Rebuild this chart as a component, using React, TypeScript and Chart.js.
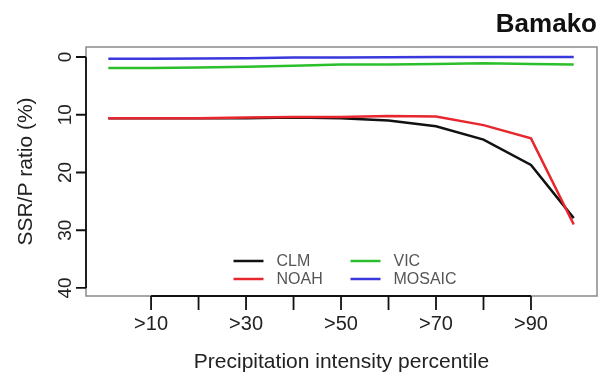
import React, { useEffect, useRef } from "react";
import { Chart, registerables } from "chart.js";

Chart.register(...registerables);

const percentiles = [1, 10, 20, 30, 40, 50, 60, 70, 80, 90, 99];
const clm = [10.6, 10.6, 10.6, 10.6, 10.5, 10.6, 11.0, 12.0, 14.3, 18.7, 27.9];
const noah = [10.6, 10.6, 10.6, 10.5, 10.4, 10.4, 10.2, 10.3, 11.8, 14.1, 29.0];
const vic = [1.9, 1.9, 1.8, 1.7, 1.5, 1.3, 1.3, 1.2, 1.1, 1.2, 1.3];
const mosaic = [0.3, 0.3, 0.25, 0.2, 0.1, 0.1, 0.05, 0.0, 0.0, 0.0, 0.0];

const seriesNames = ["CLM", "NOAH", "VIC", "MOSAIC"];
const seriesColors = ["#111111", "#e8262e", "#2cbf2c", "#3838dc"];
const seriesOrder = [1, 0, 2, 3];

const xTickValues = [10, 20, 30, 40, 50, 60, 70, 80, 90];
const xTickLabels = [">10", "", ">30", "", ">50", "", ">70", "", ">90"];
const yTickValues = [0, 10, 20, 30, 40];

const titleText = "Bamako";
const xTitle = "Precipitation intensity percentile";
const yTitle = "SSR/P ratio (%)";

const FONT = "'Liberation Sans', Arial, sans-serif";

const overlayPlugin = {
  id: "rStyle",
  afterDraw(chart: any) {
    const ctx = chart.ctx as CanvasRenderingContext2D;
    const area = chart.chartArea;
    const xs = chart.scales.x;
    const ys = chart.scales.y;
    ctx.save();

    // box
    ctx.strokeStyle = "#8a8a8a";
    ctx.lineWidth = 1.5;
    ctx.strokeRect(area.left, area.top, area.right - area.left, area.bottom - area.top);

    // axes
    ctx.strokeStyle = "#111";
    ctx.lineWidth = 1.8;
    ctx.beginPath();
    const x0 = xs.getPixelForValue(xTickValues[0]);
    const x1 = xs.getPixelForValue(xTickValues[xTickValues.length - 1]);
    ctx.moveTo(x0, area.bottom);
    ctx.lineTo(x1, area.bottom);
    xTickValues.forEach((v) => {
      const px = xs.getPixelForValue(v);
      ctx.moveTo(px, area.bottom);
      ctx.lineTo(px, area.bottom + 14);
    });
    const y0 = ys.getPixelForValue(yTickValues[0]);
    const y1 = ys.getPixelForValue(yTickValues[yTickValues.length - 1]);
    ctx.moveTo(area.left, y0);
    ctx.lineTo(area.left, y1);
    yTickValues.forEach((v) => {
      const py = ys.getPixelForValue(v);
      ctx.moveTo(area.left, py);
      ctx.lineTo(area.left - 10, py);
    });
    ctx.stroke();

    // x tick labels
    ctx.fillStyle = "#222";
    ctx.font = `20px ${FONT}`;
    ctx.textAlign = "center";
    ctx.textBaseline = "alphabetic";
    xTickValues.forEach((v, i) => {
      if (!xTickLabels[i]) return;
      ctx.fillText(xTickLabels[i], xs.getPixelForValue(v), area.bottom + 34);
    });

    // y tick labels (rotated)
    ctx.font = `19px ${FONT}`;
    yTickValues.forEach((v) => {
      const py = ys.getPixelForValue(v);
      ctx.save();
      ctx.translate(area.left - 15, py);
      ctx.rotate(-Math.PI / 2);
      ctx.textAlign = "center";
      ctx.fillText(String(v), 0, 0);
      ctx.restore();
    });

    // axis titles
    ctx.font = `21px ${FONT}`;
    ctx.fillStyle = "#222";
    ctx.textAlign = "center";
    ctx.fillText(xTitle, (area.left + area.right) / 2, 368);
    ctx.save();
    ctx.translate(32, (area.top + area.bottom) / 2);
    ctx.rotate(-Math.PI / 2);
    ctx.fillText(yTitle, 0, 0);
    ctx.restore();

    // title
    ctx.font = `bold 26px ${FONT}`;
    ctx.fillStyle = "#111";
    ctx.textAlign = "right";
    ctx.fillText(titleText, area.right, 32);

    // legend
    const cx = (area.left + area.right) / 2;
    const colStarts = [cx - 108, cx + 9];
    const rowYs = [area.bottom - 35, area.bottom - 17];
    ctx.font = `16px ${FONT}`;
    ctx.textAlign = "left";
    ctx.textBaseline = "middle";
    chart.data.datasets.forEach((ds: any, i: number) => {
      const col = Math.floor(i / 2);
      const row = i % 2;
      const lx = colStarts[col];
      const ly = rowYs[row];
      ctx.strokeStyle = ds.borderColor;
      ctx.lineWidth = 2.5;
      ctx.beginPath();
      ctx.moveTo(lx, ly);
      ctx.lineTo(lx + 30, ly);
      ctx.stroke();
      ctx.fillStyle = "#555";
      ctx.fillText(ds.label, lx + 43, ly + 1);
    });

    ctx.restore();
  },
};

export default function App() {
  const canvasRef = useRef<HTMLCanvasElement | null>(null);

  useEffect(() => {
    document.body.style.margin = "0";
    const canvas = canvasRef.current;
    if (!canvas) return;
    const seriesValues = [clm, noah, vic, mosaic];
    const chart = new Chart(canvas, {
      type: "line",
      data: {
        datasets: seriesValues.map((vals, i) => ({
          label: seriesNames[i],
          data: percentiles.map((p, j) => ({ x: p, y: vals[j] })),
          borderColor: seriesColors[i],
          backgroundColor: seriesColors[i],
          borderWidth: 2.5,
          pointRadius: 0,
          tension: 0,
          fill: false,
          order: seriesOrder[i],
        })),
      },
      options: {
        responsive: false,
        animation: false,
        devicePixelRatio: 1,
        layout: { padding: { left: 86, top: 47, right: 2, bottom: 76 } },
        plugins: { legend: { display: false }, tooltip: { enabled: false }, title: { display: false } },
        scales: {
          x: { type: "linear", min: -3.7, max: 103.9, display: false },
          y: { type: "linear", min: -1.73, max: 41.39, reverse: true, display: false },
        },
      },
      plugins: [overlayPlugin],
    });
    return () => chart.destroy();
  }, []);

  return (
    <div style={{ width: 599, height: 372, background: "#fff" }}>
      <canvas ref={canvasRef} width={599} height={372} />
    </div>
  );
}
